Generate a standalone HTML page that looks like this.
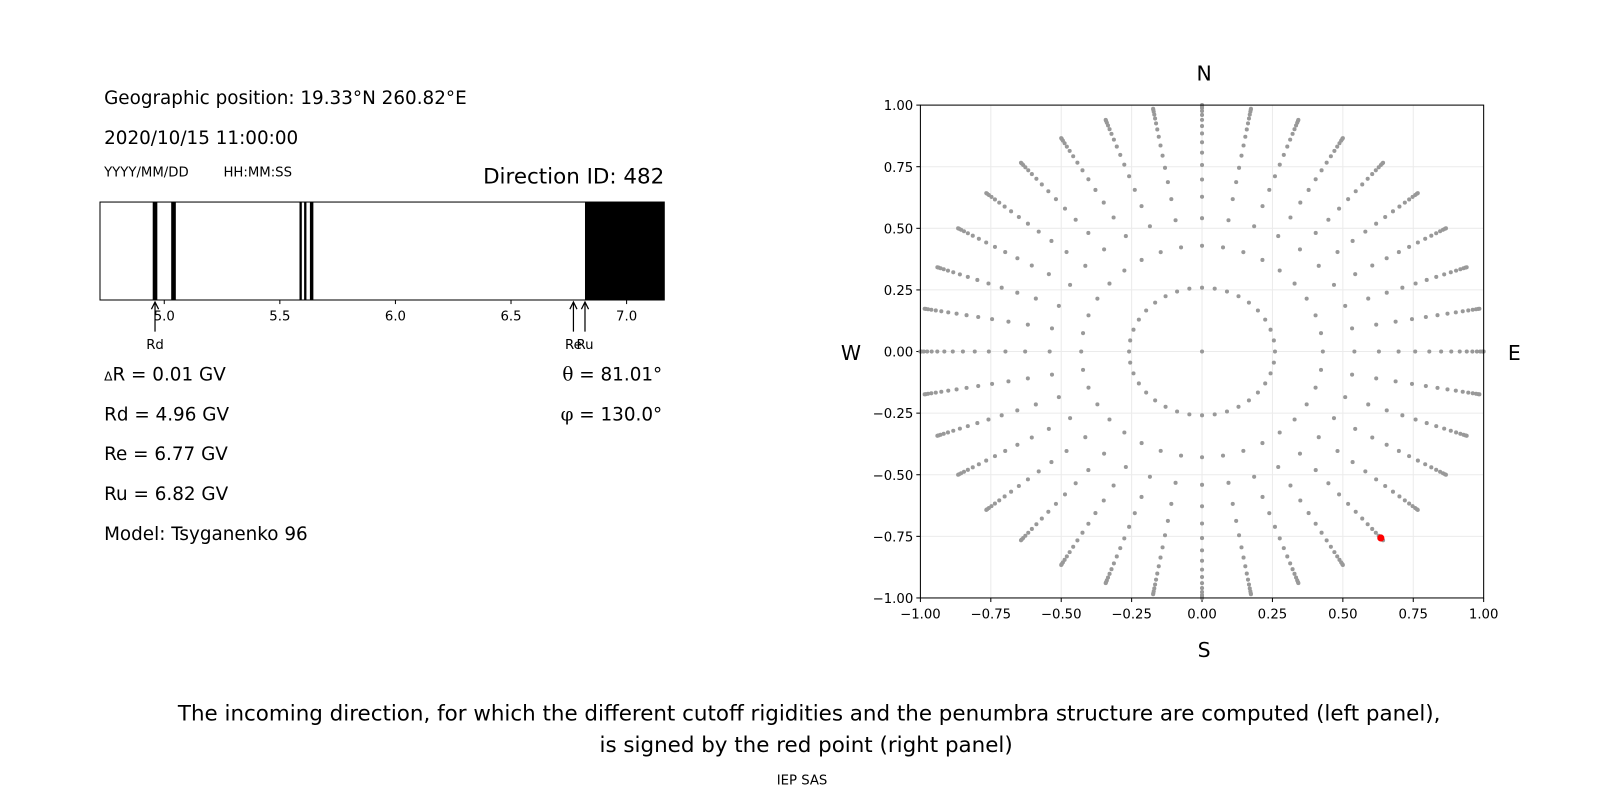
<!DOCTYPE html>
<html><head><meta charset="utf-8">
<style>
html,body{margin:0;padding:0;background:#fff;width:1600px;height:800px;overflow:hidden}
svg{display:block;font-family:"DejaVu Sans","Liberation Sans",sans-serif}
</style></head>
<body>
<svg id="fig" width="1600" height="800" viewBox="0 0 1600 800">
 <g transform="scale(1.0204)">
  <g fill="#000">
    <text x="102" y="102" font-size="18">Geographic position: 19.33°N 260.82°E</text>
    <text x="102" y="141" font-size="18">2020/10/15 11:00:00</text>
    <text x="102" y="173" font-size="13">YYYY/MM/DD</text>
    <text x="219" y="173" font-size="13">HH:MM:SS</text>
    <text x="651" y="180" font-size="21" text-anchor="end">Direction ID: 482</text>
    <text x="102" y="373" font-size="18"><tspan font-size="12">Δ</tspan>R = 0.01 GV</text>
    <text x="102" y="412" font-size="18">Rd = 4.96 GV</text>
    <text x="102" y="451" font-size="18">Re = 6.77 GV</text>
    <text x="102" y="490" font-size="18">Ru = 6.82 GV</text>
    <text x="102" y="529" font-size="18">Model: Tsyganenko 96</text>
    <text x="649" y="373" font-size="18" text-anchor="end"><tspan font-family="DejaVu Serif,serif">θ</tspan> = 81.01°</text>
    <text x="649" y="412" font-size="18" text-anchor="end"><tspan font-family="DejaVu Serif,serif">φ</tspan> = 130.0°</text>
  </g>
  <g id="penumbra"></g>
  <g id="sky"></g>
  <g font-size="20" text-anchor="middle">
    <text x="1180" y="79">N</text>
    <text x="1180" y="644">S</text>
    <text x="834" y="353">W</text>
    <text x="1484" y="353">E</text>
  </g>
  <text x="793" y="706" font-size="21" text-anchor="middle">The incoming direction, for which the different cutoff rigidities and the penumbra structure are computed (left panel),</text>
  <text x="790" y="737" font-size="21" text-anchor="middle">is signed by the red point (right panel)</text>
  <text x="786" y="769" font-size="13" text-anchor="middle">IEP SAS</text>
 </g>
</svg>
<script>
const NS='http://www.w3.org/2000/svg';
// penumbra data (GV)
const forbiddenBands=[[4.95,4.97],[5.03,5.05],[5.585,5.595],[5.605,5.615],[5.63,5.645],[6.82,7.2]];
const rigidityTicks=[5.0,5.5,6.0,6.5,7.0];
const markerNames=['Rd','Re','Ru'];
const markerValues=[4.96,6.77,6.82];
// direction grid data
const azimuths=[0,10,20,30,40,50,60,70,80,90,100,110,120,130,140,150,160,170,180,190,200,210,220,230,240,250,260,270,280,290,300,310,320,330,340,350];
const ringRadii=[0.259,0.429,0.541,0.628,0.698,0.757,0.807,0.849,0.885,0.915,0.940,0.960,0.976,0.988,0.996,1.0];
const selectedZenith=81.01;
const selectedAzimuth=140;
const axisTicks=[-1,-0.75,-0.5,-0.25,0,0.25,0.5,0.75,1];
const axisTickLabels=['−1.00','−0.75','−0.50','−0.25','0.00','0.25','0.50','0.75','1.00'];

function mk(tag,attrs,parent){const e=document.createElementNS(NS,tag);for(const k in attrs)e.setAttribute(k,attrs[k]);parent.appendChild(e);return e;}

// penumbra
const P=document.getElementById('penumbra');
const pL=98,pR=651,pT=198,pB=294,gMin=4.722,gMax=7.163;
const px=v=>pL+(v-gMin)/(gMax-gMin)*(pR-pL);
forbiddenBands.forEach(b=>{
  const x1=Math.max(px(b[0]),pL),x2=Math.min(px(b[1]),pR);
  const r=mk('rect',{x:x1,y:pT,width:x2-x1,height:pB-pT,fill:'#000'},P);
  
  
});
const fr=mk('rect',{x:pL,y:pT,width:pR-pL,height:pB-pT,fill:'none',stroke:'#000','stroke-width':1},P);


rigidityTicks.forEach(t=>{
  mk('line',{x1:px(t),x2:px(t),y1:pB,y2:pB+4,stroke:'#000'},P);
  const tx=mk('text',{x:px(t),y:pB+20,'font-size':13,'text-anchor':'middle'},P);
  tx.textContent=t.toFixed(1);
  
  
});
markerValues.forEach((v,i)=>{
  const x=px(v);
  const g=mk('g',{},P);
  
  
  mk('line',{x1:x,x2:x,y1:pB+3,y2:pB+31,stroke:'#000','stroke-width':1.2},g);
  mk('path',{d:`M${x-3.5},${pB+9}L${x},${pB+2}L${x+3.5},${pB+9}`,fill:'none',stroke:'#000','stroke-width':1.2},g);
  const t=mk('text',{x:x,y:pB+48,'font-size':13,'text-anchor':'middle'},g);
  t.textContent=markerNames[i];
});

// direction chart
const S=document.getElementById('sky');
const sL=902,sR=1454,sT=103,sB=586;
const sx=v=>sL+(v+1)/2*(sR-sL);
const sy=v=>sB-(v+1)/2*(sB-sT);
axisTicks.forEach((t,i)=>{
  mk('line',{x1:sx(t),x2:sx(t),y1:sT,y2:sB,stroke:'#ebebeb','stroke-width':1},S);
  mk('line',{x1:sL,x2:sR,y1:sy(t),y2:sy(t),stroke:'#ebebeb','stroke-width':1},S);
  mk('line',{x1:sx(t),x2:sx(t),y1:sB,y2:sB+4,stroke:'#000'},S);
  mk('line',{x1:sL-4,x2:sL,y1:sy(t),y2:sy(t),stroke:'#000'},S);
  const xl=mk('text',{x:sx(t),y:sB+20,'font-size':13,'text-anchor':'middle'},S);
  xl.textContent=axisTickLabels[i];
  
  
  const yl=mk('text',{x:sL-7,y:sy(t)+5,'font-size':13,'text-anchor':'end'},S);
  yl.textContent=axisTickLabels[i];
  
  
});
const c0=mk('circle',{cx:sx(0),cy:sy(0),r:2,fill:'#999'},S);


azimuths.forEach(a=>{
  const ar=a*Math.PI/180;
  ringRadii.forEach(r=>{
    const c=mk('circle',{cx:sx(r*Math.sin(ar)),cy:sy(r*Math.cos(ar)),r:2,fill:'#999'},S);
    
    
  });
});
const rr=Math.sin(selectedZenith*Math.PI/180),ra=selectedAzimuth*Math.PI/180;
const red=mk('circle',{cx:sx(rr*Math.sin(ra)),cy:sy(rr*Math.cos(ra)),r:3.5,fill:'#ff0000'},S);


const sf=mk('rect',{x:sL,y:sT,width:sR-sL,height:sB-sT,fill:'none',stroke:'#000','stroke-width':1},S);


</script>
</body></html>
